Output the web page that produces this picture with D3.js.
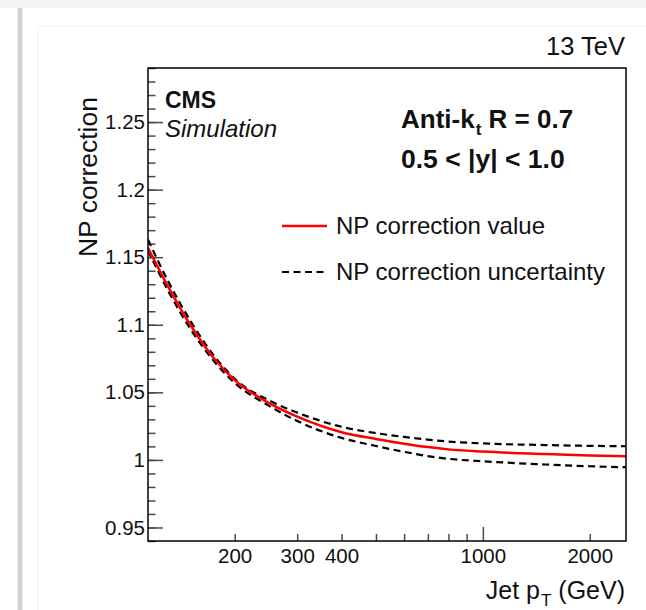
<!DOCTYPE html>
<html>
<head>
<meta charset="utf-8">
<script src="https://cdn.jsdelivr.net/npm/d3@7"></script>
<style>
  html, body { margin: 0; padding: 0; background: #fff; }
  svg { display: block; font-family: "Liberation Sans", Arial, Helvetica, sans-serif; }
</style>
</head>
<body>
<svg id="chart" width="646" height="610"></svg>
<script>
// Jet pT sampling points (GeV) and non-perturbative correction curves
const ptValues = [114, 130, 150, 175, 200, 250, 300, 400, 500, 600, 700, 800, 1000, 1500, 2000, 2530];
const npValue  = [1.157, 1.128, 1.100, 1.075, 1.059, 1.042, 1.032, 1.0205, 1.0155, 1.0120, 1.0095, 1.0078, 1.0062, 1.0044, 1.0033, 1.0027];
const npUpper  = [1.163, 1.132, 1.103, 1.077, 1.060, 1.044, 1.035, 1.0245, 1.0198, 1.0170, 1.0150, 1.0136, 1.0122, 1.0110, 1.0104, 1.0101];
const npLower  = [1.155, 1.125, 1.097, 1.073, 1.057, 1.040, 1.0288, 1.0163, 1.0103, 1.0060, 1.0028, 1.0008, 0.9990, 0.9966, 0.9953, 0.9946];

// Axis ranges and ticks
const ptDomain      = [114, 2530];
const corrDomain    = [0.94, 1.29];
const yMajorTicks   = [0.95, 1.0, 1.05, 1.1, 1.15, 1.2, 1.25];
const yMinorTicks   = d3.range(94, 130).map(v => v / 100);
const xTicks        = [200, 300, 400, 500, 600, 700, 800, 900, 1000, 2000];
const xLabelled     = [200, 300, 400, 1000, 2000];
const legendLabels  = ["NP correction value", "NP correction uncertainty"];

const svg = d3.select("#chart");
const W = 646, H = 610;
const plot = { left: 148, right: 626, top: 68, bottom: 541 };

// Page backdrop
const defs = svg.append("defs");
const shade = defs.append("linearGradient").attr("id", "edgeShade").attr("x1", 0).attr("x2", 1).attr("y1", 0).attr("y2", 0);
shade.append("stop").attr("offset", "0%").attr("stop-color", "#ececec");
shade.append("stop").attr("offset", "45%").attr("stop-color", "#c9c9c9");
shade.append("stop").attr("offset", "100%").attr("stop-color", "#e9e9e9");
defs.append("clipPath").attr("id", "plotClip").append("rect")
  .attr("x", plot.left).attr("y", plot.top)
  .attr("width", plot.right - plot.left).attr("height", plot.bottom - plot.top);

svg.append("rect").attr("width", W).attr("height", H).attr("fill", "#fff");
svg.append("rect").attr("x", 0).attr("y", 0).attr("width", W).attr("height", 8).attr("fill", "#f5f5f5");
svg.append("rect").attr("x", 17).attr("y", 8).attr("width", 6).attr("height", H - 8).attr("fill", "url(#edgeShade)");
svg.append("path").attr("d", `M38,${H}V26H${W}`).attr("fill", "none").attr("stroke", "#f0f0f0").attr("stroke-width", 1);

// Scales
const x = d3.scaleLog().domain(ptDomain).range([plot.left, plot.right]);
const y = d3.scaleLinear().domain(corrDomain).range([plot.bottom, plot.top]);

// Y axis: minor and major ticks pointing inward
const yMinor = svg.append("g").attr("transform", `translate(${plot.left},0)`)
  .call(d3.axisLeft(y).tickValues(yMinorTicks).tickSize(-7.5).tickFormat(""));
const yMajor = svg.append("g").attr("transform", `translate(${plot.left},0)`)
  .call(d3.axisLeft(y).tickValues(yMajorTicks).tickSize(-15).tickPadding(3)
    .tickFormat(d => String(+d.toFixed(2))));
[yMinor, yMajor].forEach(g => {
  g.select(".domain").remove();
  g.selectAll(".tick line").attr("stroke", "#4a4a4a").attr("stroke-width", 1.5);
});
yMajor.selectAll(".tick text").attr("font-size", 20.5).attr("fill", "#111");

// X axis (log)
const xAxis = svg.append("g").attr("transform", `translate(0,${plot.bottom})`)
  .call(d3.axisBottom(x).tickValues(xTicks).tickSize(-7).tickPadding(7)
    .tickFormat(d => xLabelled.includes(d) ? String(d) : ""));
xAxis.select(".domain").remove();
xAxis.selectAll(".tick line").attr("stroke", "#4a4a4a").attr("stroke-width", 1.5)
  .filter(d => d === 1000).attr("y2", -14);
xAxis.selectAll(".tick text").attr("font-size", 20.5).attr("fill", "#111");

// Curves
const line = d3.line().x(d => x(d[0])).y(d => y(d[1])).curve(d3.curveMonotoneX);
const curves = svg.append("g").attr("clip-path", "url(#plotClip)");
const series = [
  { vals: npUpper, color: "#000", width: 2.2, dash: "7,4.5" },
  { vals: npLower, color: "#000", width: 2.2, dash: "7,4.5" },
  { vals: npValue, color: "#ff0000", width: 2.5, dash: null }
];
series.forEach(s => {
  curves.append("path")
    .datum(ptValues.map((p, i) => [p, s.vals[i]]))
    .attr("d", line)
    .attr("fill", "none")
    .attr("stroke", s.color)
    .attr("stroke-width", s.width)
    .attr("stroke-dasharray", s.dash);
});

// Frame
svg.append("rect")
  .attr("x", plot.left).attr("y", plot.top)
  .attr("width", plot.right - plot.left).attr("height", plot.bottom - plot.top)
  .attr("fill", "none").attr("stroke", "#000").attr("stroke-width", 1.5);

// Axis titles
const xTitle = svg.append("text").attr("x", 625).attr("y", 599)
  .attr("text-anchor", "end").attr("font-size", 25).attr("fill", "#111");
xTitle.append("tspan").text("Jet p");
xTitle.append("tspan").attr("font-size", 17).attr("dy", 7).attr("dx", 1).text("T");
xTitle.append("tspan").attr("dy", -7).text(" (GeV)");

svg.append("text")
  .attr("transform", "translate(97,97) rotate(-90)")
  .attr("text-anchor", "end").attr("font-size", 26.5).attr("fill", "#111")
  .text("NP correction");

// Header and labels
svg.append("text").attr("x", 625).attr("y", 55).attr("text-anchor", "end")
  .attr("font-size", 25.5).attr("fill", "#111").text("13 TeV");
svg.append("text").attr("x", 165).attr("y", 108).attr("font-size", 23)
  .attr("font-weight", "bold").attr("fill", "#111").text("CMS");
svg.append("text").attr("x", 165).attr("y", 137).attr("font-size", 24)
  .attr("font-style", "italic").attr("fill", "#111").text("Simulation");

const algo = svg.append("text").attr("x", 401).attr("y", 128).attr("font-size", 26)
  .attr("font-weight", "bold").attr("fill", "#111");
algo.append("tspan").text("Anti-k");
algo.append("tspan").attr("font-size", 17).attr("dy", 7).attr("dx", 1).text("t");
algo.append("tspan").attr("dy", -7).text(" R = 0.7");
svg.append("text").attr("x", 401).attr("y", 168).attr("font-size", 26.5)
  .attr("font-weight", "bold").attr("fill", "#111").text("0.5 < |y| < 1.0");

// Legend
const legend = svg.append("g");
const legendRows = [
  { label: legendLabels[0], color: "#ff0000", width: 2.5, dash: null, yPos: 226 },
  { label: legendLabels[1], color: "#000", width: 2.2, dash: "7,4.5", yPos: 272 }
];
legendRows.forEach(r => {
  legend.append("line").attr("x1", 282).attr("x2", 327).attr("y1", r.yPos).attr("y2", r.yPos)
    .attr("stroke", r.color).attr("stroke-width", r.width).attr("stroke-dasharray", r.dash);
  legend.append("text").attr("x", 336).attr("y", r.yPos).attr("dy", "0.35em")
    .attr("font-size", 24).attr("fill", "#111").text(r.label);
});
</script>
</body>
</html>
